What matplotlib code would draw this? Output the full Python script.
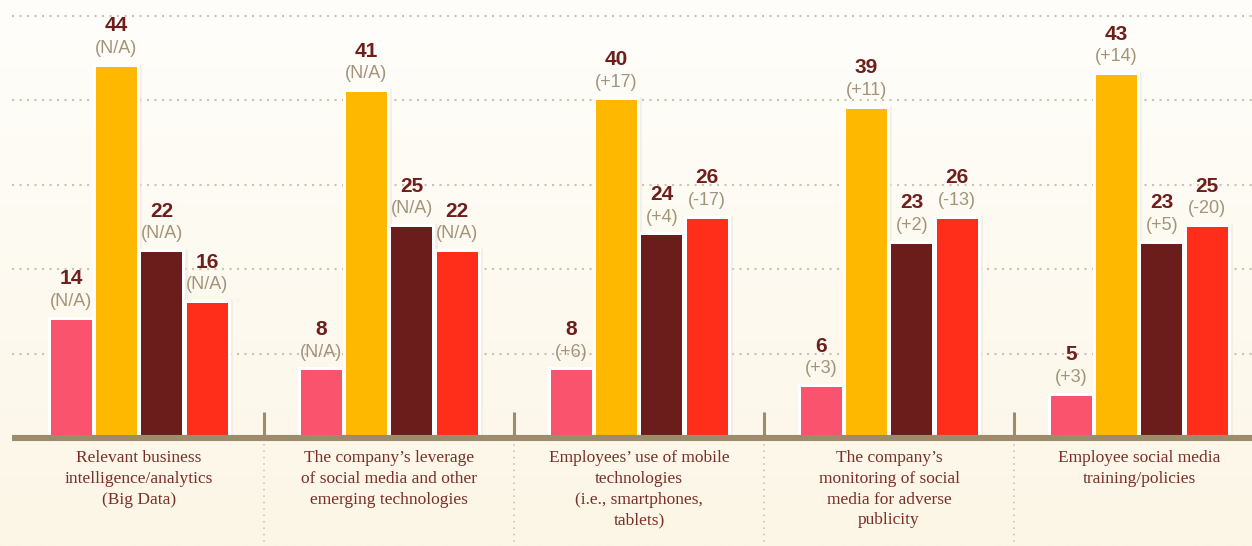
import matplotlib
matplotlib.use("Agg")
import matplotlib.pyplot as plt
import numpy as np

categories = [
    "Relevant business\nintelligence/analytics\n(Big Data)",
    "The company\u2019s leverage\nof social media and other\nemerging technologies",
    "Employees\u2019 use of mobile\ntechnologies\n(i.e., smartphones,\ntablets)",
    "The company\u2019s\nmonitoring of social\nmedia for adverse\npublicity",
    "Employee social media\ntraining/policies",
]
series_pink = [14, 8, 8, 6, 5]
series_amber = [44, 41, 40, 39, 43]
series_maroon = [22, 25, 24, 23, 23]
series_red = [16, 22, 26, 26, 25]
change_pink = ["(N/A)", "(N/A)", "(+6)", "(+3)", "(+3)"]
change_amber = ["(N/A)", "(N/A)", "(+17)", "(+11)", "(+14)"]
change_maroon = ["(N/A)", "(N/A)", "(+4)", "(+2)", "(+5)"]
change_red = ["(N/A)", "(N/A)", "(-17)", "(-13)", "(-20)"]
gridlines = [10, 20, 30, 40, 50]

colors = ["#FA536D", "#FFB800", "#6B1D1B", "#FF2E1A"]
series = [series_pink, series_amber, series_maroon, series_red]
changes = [change_pink, change_amber, change_maroon, change_red]

fig = plt.figure(figsize=(12.52, 5.46), dpi=100)
ax = fig.add_axes([0, 0, 1, 1])
PX = 250.0           # px per group
YS = 8.44            # px per unit
x0 = -139 / PX
x1 = (1252 - 139) / PX
y1 = 438 / YS
y0 = -(546 - 438) / YS
ax.set_xlim(x0, x1)
ax.set_ylim(y0, y1)
ax.axis("off")

# background gradient
grad = np.linspace(0, 1, 256).reshape(-1, 1)
top = np.array([255, 254, 251]) / 255
bot = np.array([252, 246, 230]) / 255
img = top[None, None, :] * (1 - grad[:, :, None]) + bot[None, None, :] * grad[:, :, None]
ax.imshow(img, extent=[x0, x1, y0, y1], aspect="auto", origin="upper", zorder=0)

# gridlines
gx0 = (12 - 139) / PX
for g in gridlines:
    ax.plot([gx0, x1], [g, g], color="#CBC2AF", lw=1.5, ls=(0, (1, 2.6)), zorder=1)

n = len(categories)
xs = np.arange(n)
offsets = [-0.272, -0.091, 0.091, 0.272]
w_col = 41 / PX
w_white = 47 / PX
top_ext = 3 / YS
for k in range(4):
    vals = np.array(series[k])
    pos = xs + offsets[k]
    ax.bar(pos + 2.5 / PX, vals + top_ext, width=w_white, color="#ECE6DA", alpha=0.5, zorder=2)
    ax.bar(pos, vals + top_ext, width=w_white, color="white", zorder=3)
for k in range(4):
    vals = np.array(series[k])
    pos = xs + offsets[k]
    ax.bar(pos, vals, width=w_col, color=colors[k], zorder=4)
    for xi, v, c in zip(pos, vals, changes[k]):
        ax.annotate(str(v), (xi, v), xytext=(0, 25.5), textcoords="offset points",
                    ha="center", va="baseline", fontsize=15, fontweight="bold",
                    color="#6E1F1C", family="Liberation Sans", zorder=6)
        ax.annotate(c, (xi, v), xytext=(0, 10), textcoords="offset points",
                    ha="center", va="baseline", fontsize=13,
                    color="#A39479", family="Liberation Sans", zorder=6)

# baseline
ax.plot([gx0, x1], [0, 0], color="#9D8C6C", lw=4.4, solid_capstyle="butt", zorder=5)

# separators
for s in np.arange(n - 1) + 0.5:
    ax.plot([s, s], [0, 26 / YS], color="#9D8C6C", lw=2.2, solid_capstyle="butt", zorder=5)
    ax.plot([s, s], [-6 / YS, y0], color="#C9C0AC", lw=1.1, ls=(0, (1, 3.2)), zorder=1)

# category labels
for xi, lab in zip(xs, categories):
    ax.text(xi, -12.5 / YS, lab, ha="center", va="top", fontsize=12.5,
            family="Liberation Serif", color="#7B2E28", linespacing=1.38, zorder=6)

fig.savefig("out.png", dpi=100)
